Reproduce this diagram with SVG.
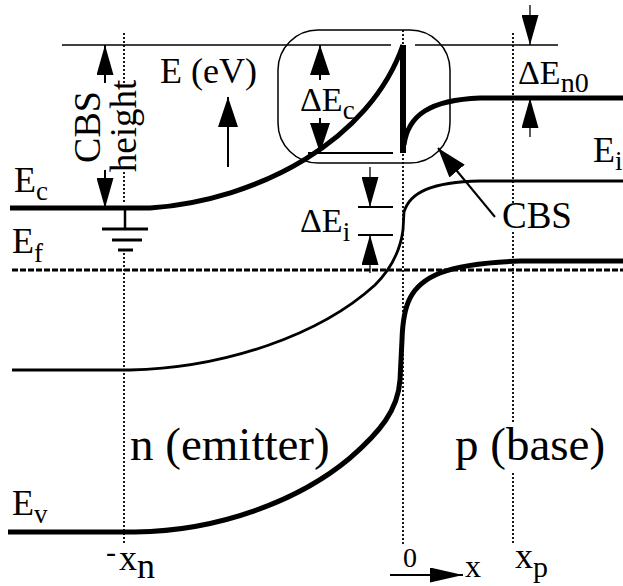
<svg xmlns="http://www.w3.org/2000/svg" width="623" height="586" viewBox="0 0 623 586">
<style>
  .band { fill: none; stroke: #000; stroke-linejoin: round; }
  .thin { fill: none; stroke: #000; stroke-width: 1.5; }
  .dot { fill: none; stroke: #000; stroke-width: 1.8; stroke-dasharray: 2 2; }
  .arr { fill: none; stroke: #000; stroke-width: 2; }
  .arrs { fill: none; stroke: #000; stroke-width: 1.3; }
</style>
<defs>
  <marker id="ah" viewBox="0 0 30 20" markerWidth="30" markerHeight="20" refX="30" refY="10" orient="auto" markerUnits="userSpaceOnUse">
    <path d="M0,0 L30,10 L0,20 Z" fill="#000"/>
  </marker>
  <marker id="ahs" viewBox="0 0 30 17" markerWidth="30" markerHeight="17" refX="30" refY="8.5" orient="auto" markerUnits="userSpaceOnUse">
    <path d="M0,0 L30,8.5 L0,17 Z" fill="#000"/>
  </marker>
  <marker id="ahx" viewBox="0 0 33 15" markerWidth="33" markerHeight="15" refX="33" refY="7.5" orient="auto" markerUnits="userSpaceOnUse">
    <path d="M0,0 L33,7.5 L0,15 Z" fill="#000"/>
  </marker>
</defs>

<g id="guides">
  <line class="dot" x1="124" y1="33" x2="124" y2="83"/>
  <line class="dot" x1="124" y1="172" x2="124" y2="203"/>
  <line class="dot" x1="124" y1="253" x2="124" y2="545"/>
  <line class="dot" x1="403" y1="30" x2="403" y2="545"/>
  <line class="dot" x1="513" y1="33" x2="513" y2="203"/>
  <line class="dot" x1="513" y1="232" x2="513" y2="423"/>
  <line class="dot" x1="513" y1="473" x2="513" y2="545"/>
  <line x1="12" y1="270" x2="623" y2="270" stroke="#000" stroke-width="3" stroke-dasharray="6 2"/>
  <line class="thin" x1="62" y1="45" x2="391" y2="45"/>
  <line class="thin" x1="415" y1="45" x2="558" y2="45"/>
  <line class="arr" x1="308" y1="153" x2="393" y2="153"/>
  <line class="arr" x1="358" y1="207" x2="393" y2="207"/>
  <line class="arr" x1="358" y1="235" x2="393" y2="235"/>
</g>

<g id="cbs-box">
  <rect x="278" y="30" width="172" height="133" rx="40" ry="40" class="thin"/>
</g>

<g id="bands">
  <path id="Ec" class="band" stroke-width="5" d="M10,208 L150,208 C260,200 370,140 403,45"/>
  <path id="spike" class="band" stroke-width="6" d="M403,45 L403,153"/>
  <path id="Ec-p" class="band" stroke-width="5" d="M404,145 C408,115 430,100 480,98 L623,98"/>
  <path id="Ei" class="band" stroke-width="2.8" d="M12,370 L130,370 C225,368 320,335 375,285 C395,265 401,245 403,230 L404,212 C410,192 432,182 480,181 L623,181"/>
  <path id="Ev" class="band" stroke-width="5" d="M8,532 L135,532 C220,531 300,500 350,458 C380,432 398,410 400,380 L402,340 C403,305 410,285 440,273 C460,265 490,262 520,261 L623,261"/>
</g>

<g id="ground">
  <line x1="125" y1="208" x2="125" y2="229" stroke="#000" stroke-width="2.5"/>
  <line x1="102" y1="229" x2="148" y2="229" stroke="#000" stroke-width="3"/>
  <line x1="112" y1="240" x2="142" y2="240" stroke="#000" stroke-width="3"/>
  <line x1="118" y1="250" x2="133" y2="250" stroke="#000" stroke-width="3"/>
</g>

<g id="connectors">
  <line class="arr" x1="105" y1="83" x2="105" y2="45" marker-end="url(#ahs)"/>
  <line class="arr" x1="105" y1="170" x2="105" y2="208" marker-end="url(#ahs)"/>
  <line class="arr" x1="228" y1="167" x2="228" y2="97" marker-end="url(#ah)"/>
  <line class="arr" x1="320" y1="80" x2="320" y2="45" marker-end="url(#ah)"/>
  <line class="arr" x1="320" y1="118" x2="320" y2="153" marker-end="url(#ah)"/>
  <line class="arrs" x1="370" y1="167" x2="370" y2="207" marker-end="url(#ahs)"/>
  <line class="arrs" x1="370" y1="273" x2="370" y2="235" marker-end="url(#ahs)"/>
  <line class="arrs" x1="530" y1="5" x2="530" y2="45" marker-end="url(#ahs)"/>
  <line class="arrs" x1="530" y1="137" x2="530" y2="98" marker-end="url(#ahs)"/>
  <line class="arr" stroke-width="2.5" x1="495" y1="217" x2="438" y2="148" marker-end="url(#ah)"/>
  <line class="arr" stroke-width="2.5" x1="390" y1="575" x2="463" y2="575" marker-end="url(#ahx)"/>
</g>

<g id="labels" font-family="Liberation Serif, DejaVu Serif, serif" fill="#000">
  <text font-size="38" text-anchor="middle" transform="translate(100,127) rotate(-90)">CBS</text>
  <text font-size="37" text-anchor="middle" transform="translate(136,126) rotate(-90)">height</text>
  <text font-size="36" x="160" y="83">E (eV)</text>
  <text font-size="34" x="300" y="111">ΔE<tspan font-size="27" dy="8">c</tspan></text>
  <text font-size="34" x="300" y="232">ΔE<tspan font-size="27" dy="9">i</tspan></text>
  <text font-size="34" x="518" y="84">ΔE<tspan font-size="28" dy="8">n0</tspan></text>
  <text font-size="36" x="14" y="192">E<tspan font-size="27" dy="8">c</tspan></text>
  <text font-size="36" x="12" y="253">E<tspan font-size="27" dy="9">f</tspan></text>
  <text font-size="36" x="12" y="515">E<tspan font-size="27" dy="8">v</tspan></text>
  <text font-size="36" x="593" y="162">E<tspan font-size="27" dy="8">i</tspan></text>
  <text font-size="37" x="502" y="228">CBS</text>
  <text font-size="47" x="130" y="460">n (emitter)</text>
  <text font-size="47" x="455" y="460">p (base)</text>
  <text font-size="30" x="106" y="562">-</text>
  <text font-size="36" x="119" y="570">x<tspan dy="8">n</tspan></text>
  <text font-size="28" x="403" y="567">0</text>
  <text font-size="32" x="465" y="577">x</text>
  <text font-size="36" x="515" y="568">x<tspan font-size="30" dy="9">p</tspan></text>
</g>
</svg>
